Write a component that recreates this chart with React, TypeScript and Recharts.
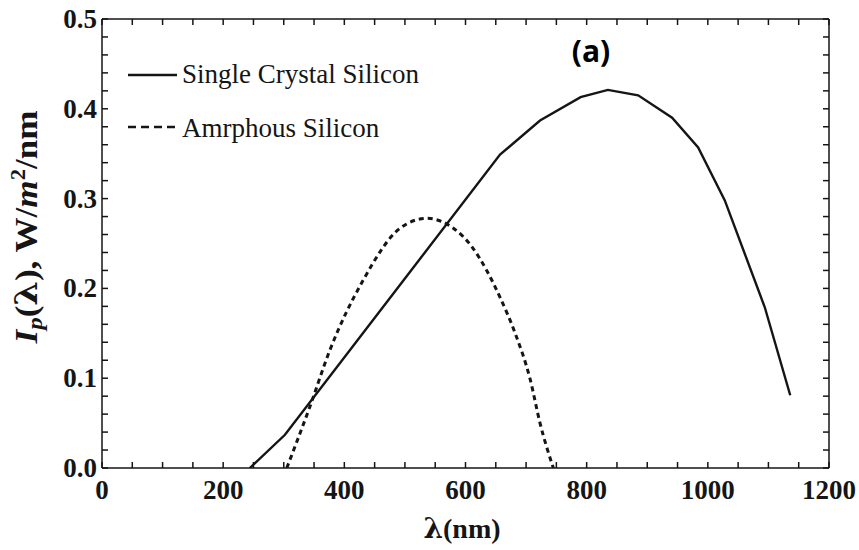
import React from "react";
import { LineChart, Line, XAxis, YAxis } from "recharts";

// Power spectra of two silicon cell types (wavelength in nm, W/m^2/nm)
const crystalWavelength = [244, 302, 500, 657, 723, 790, 835, 885, 941, 984, 1028, 1094, 1136];
const crystalIntensity = [0, 0.037, 0.211, 0.349, 0.387, 0.413, 0.421, 0.415, 0.39, 0.357, 0.298, 0.179, 0.081];

const amorphousWavelength = [305, 343, 376, 431, 492, 536, 580, 611, 635, 657, 682, 707, 723, 745];
const amorphousIntensity = [0, 0.068, 0.131, 0.209, 0.267, 0.278, 0.267, 0.246, 0.22, 0.19, 0.15, 0.098, 0.05, 0];

const xTicks = [0, 50, 100, 150, 200, 250, 300, 350, 400, 450, 500, 550, 600, 650, 700, 750, 800, 850, 900, 950, 1000, 1050, 1100, 1150, 1200];
const xTickLabels = [0, 200, 400, 600, 800, 1000, 1200];
const yTicks = [0, 0.02, 0.04, 0.06, 0.08, 0.1, 0.12, 0.14, 0.16, 0.18, 0.2, 0.22, 0.24, 0.26, 0.28, 0.3, 0.32, 0.34, 0.36, 0.38, 0.4, 0.42, 0.44, 0.46, 0.48, 0.5];
const yTickLabels = ["0.0", "0.1", "0.2", "0.3", "0.4", "0.5"];

const seriesNames = ["Single Crystal Silicon", "Amrphous Silicon"];

const crystalData = crystalWavelength.map((x, i) => ({ x, y: crystalIntensity[i] }));
const amorphousData = amorphousWavelength.map((x, i) => ({ x, y: amorphousIntensity[i] }));

const SERIF = "'Liberation Serif', 'Times New Roman', serif";
const GREEK = "'DejaVu Serif', serif";
const INK = "#151515";

const XTick = (props: any) => {
  const { x, y, payload } = props;
  if (!xTickLabels.includes(payload.value)) return <g />;
  return (
    <text x={x} y={y + 31} textAnchor="middle" fontFamily={SERIF} fontWeight="bold" fontSize={27} fill={INK}>
      {payload.value}
    </text>
  );
};

const YTick = (props: any) => {
  const { x, y, payload } = props;
  const label = payload.value.toFixed(1);
  if (Math.abs(payload.value * 10 - Math.round(payload.value * 10)) > 1e-6 || !yTickLabels.includes(label)) return <g />;
  return (
    <text x={x - 5} y={y + 9} textAnchor="end" fontFamily={SERIF} fontWeight="bold" fontSize={27} fill={INK}>
      {label}
    </text>
  );
};

const NoTick = () => <g />;

export default function App() {
  return (
    <div style={{ position: "absolute", left: 0, top: 0, background: "#fff" }}>
      <LineChart width={859} height={550} margin={{ top: 18, right: 29, bottom: 42, left: 42 }}>
        <XAxis
          xAxisId="b"
          dataKey="x"
          type="number"
          domain={[0, 1200]}
          ticks={xTicks}
          interval={0}
          height={40}
          tickSize={-6}
          tickMargin={6}
          tick={XTick}
          stroke={INK}
          strokeWidth={1.5}
          allowDataOverflow
        />
        <XAxis
          xAxisId="t"
          orientation="top"
          dataKey="x"
          type="number"
          domain={[0, 1200]}
          ticks={xTicks}
          interval={0}
          height={1}
          tickSize={-6}
          tick={NoTick}
          stroke={INK}
          strokeWidth={1.5}
          allowDataOverflow
        />
        <YAxis
          yAxisId="l"
          type="number"
          domain={[0, 0.5]}
          ticks={yTicks}
          interval={0}
          width={60}
          tickSize={-6}
          tickMargin={6}
          tick={YTick}
          stroke={INK}
          strokeWidth={1.5}
          allowDataOverflow
        />
        <YAxis
          yAxisId="r"
          orientation="right"
          type="number"
          domain={[0, 0.5]}
          ticks={yTicks}
          interval={0}
          width={1}
          tickSize={-6}
          tick={NoTick}
          stroke={INK}
          strokeWidth={1.5}
          allowDataOverflow
        />
        <Line
          xAxisId="b"
          yAxisId="l"
          data={crystalData}
          dataKey="y"
          name={seriesNames[0]}
          type="linear"
          stroke={INK}
          strokeWidth={2.4}
          dot={false}
          activeDot={false}
          isAnimationActive={false}
        />
        <Line
          xAxisId="b"
          yAxisId="l"
          data={amorphousData}
          dataKey="y"
          name={seriesNames[1]}
          type="monotone"
          stroke={INK}
          strokeWidth={3}
          strokeDasharray="5 4"
          dot={false}
          activeDot={false}
          isAnimationActive={false}
        />

        {/* legend */}
        <g>
          <line x1={128} x2={177} y1={75} y2={75} stroke={INK} strokeWidth={2.4} />
          <text x={182} y={83} fontFamily={SERIF} fontSize={27} fill={INK}>{seriesNames[0]}</text>
          <line x1={128} x2={175} y1={127} y2={127} stroke={INK} strokeWidth={2.4} strokeDasharray="8 5" />
          <text x={182} y={137} fontFamily={SERIF} fontSize={27} fill={INK}>{seriesNames[1]}</text>
        </g>

        {/* panel tag */}
        <text x={591} y={62} textAnchor="middle" fontFamily="'Open Sans', sans-serif" fontWeight="bold" fontSize={30} fill="#000">
          (a)
        </text>

        {/* axis titles */}
        <text x={462} y={538} textAnchor="middle" fontFamily={SERIF} fontWeight="bold" fontSize={28} fill={INK}>
          <tspan fontFamily={GREEK}>λ</tspan>
          <tspan>(nm)</tspan>
        </text>
        <text
          transform="translate(37,227) rotate(-90)"
          textAnchor="middle"
          fontFamily={SERIF}
          fontWeight="bold"
          fontSize={31}
          fill={INK}
          textLength={233}
          lengthAdjust="spacingAndGlyphs"
        >
          <tspan fontStyle="italic">I</tspan>
          <tspan fontStyle="italic" fontSize={22} dy={5}>p</tspan>
          <tspan dy={-5}>(</tspan>
          <tspan fontFamily={GREEK}>λ</tspan>
          <tspan>), W/</tspan>
          <tspan fontStyle="italic">m</tspan>
          <tspan fontSize={20} dy={-12}>2</tspan>
          <tspan dy={12}>/nm</tspan>
        </text>
      </LineChart>
    </div>
  );
}
